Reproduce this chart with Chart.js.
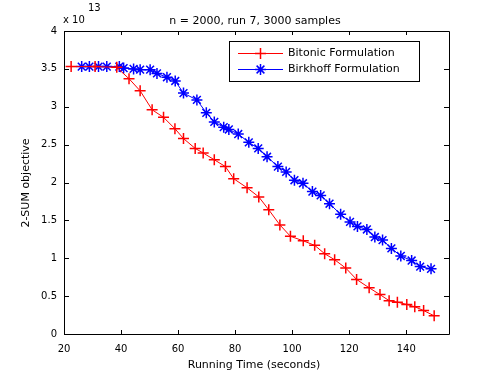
<!DOCTYPE html>
<html>
<head>
<meta charset="utf-8">
<script src="https://cdn.jsdelivr.net/npm/chart.js@4"></script>
<style>
  body { margin: 0; background: #fff; }
  canvas { display: block; }
</style>
</head>
<body>
<canvas id="plot" width="495" height="375"></canvas>
<script>
// values in units of 1e13
const bitonicTime = [22.5, 30.9, 38.5, 42.8, 46.7, 50.9, 54.9, 58.9, 61.9, 66.0, 68.8, 72.7, 76.6, 79.5, 84.2, 88.3, 91.8, 95.7, 99.4, 103.9, 107.9, 111.4, 114.9, 118.8, 122.6, 127.0, 130.8, 134.0, 136.9, 140.2, 143.0, 146.1, 149.8];
const bitonicObj = [3.53, 3.53, 3.52, 3.37, 3.21, 2.96, 2.86, 2.71, 2.58, 2.45, 2.39, 2.30, 2.21, 2.05, 1.93, 1.81, 1.64, 1.44, 1.29, 1.23, 1.17, 1.06, 0.98, 0.87, 0.72, 0.61, 0.52, 0.44, 0.42, 0.39, 0.36, 0.31, 0.24];

const birkhoffTime = [26.2, 28.9, 32.1, 35.0, 39.4, 40.9, 44.4, 46.7, 50.2, 52.6, 56.1, 59.0, 61.9, 66.6, 69.9, 72.7, 76.0, 77.8, 81.1, 84.8, 88.1, 91.2, 95.0, 97.9, 100.8, 103.8, 107.1, 110.0, 113.1, 117.0, 120.3, 122.9, 126.2, 129.0, 131.7, 134.8, 138.1, 141.9, 144.9, 148.7];
const birkhoffObj = [3.53, 3.53, 3.53, 3.53, 3.53, 3.51, 3.50, 3.49, 3.49, 3.44, 3.39, 3.34, 3.18, 3.09, 2.92, 2.80, 2.73, 2.70, 2.64, 2.53, 2.45, 2.34, 2.21, 2.14, 2.03, 1.99, 1.88, 1.83, 1.72, 1.58, 1.48, 1.42, 1.38, 1.28, 1.24, 1.13, 1.03, 0.97, 0.89, 0.86];

const seriesNames = ['Bitonic Formulation', 'Birkhoff Formulation'];
const xTicks = [20, 40, 60, 80, 100, 120, 140];
const yTicks = [0, 0.5, 1, 1.5, 2, 2.5, 3, 3.5, 4];

const FONT = 'DejaVu Sans';

function pts(xs, ys) {
    return xs.map((x, i) => ({ x: x, y: ys[i] }));
}

// box, inward ticks, titles and legend (matlab look)
const matlabFrame = {
    id: 'matlabFrame',
    afterDraw(chart) {
        const ctx = chart.ctx;
        const a = chart.chartArea;
        const xs = chart.scales.x, ys = chart.scales.y;
        ctx.save();
        ctx.strokeStyle = '#000';
        ctx.lineWidth = 1;
        ctx.beginPath();
        ctx.rect(Math.round(a.left) + 0.5, Math.round(a.top) + 0.5,
                 Math.round(a.right - a.left), Math.round(a.bottom - a.top));
        xTicks.forEach(v => {
            const px = Math.round(xs.getPixelForValue(v)) + 0.5;
            ctx.moveTo(px, a.bottom); ctx.lineTo(px, a.bottom - 4);
            ctx.moveTo(px, a.top); ctx.lineTo(px, a.top + 4);
        });
        yTicks.forEach(v => {
            const py = Math.round(ys.getPixelForValue(v)) + 0.5;
            ctx.moveTo(a.left, py); ctx.lineTo(a.left + 5, py);
            ctx.moveTo(a.right, py); ctx.lineTo(a.right - 5, py);
        });
        ctx.stroke();

        ctx.fillStyle = '#000';
        ctx.textBaseline = 'middle';
        ctx.font = '11px ' + FONT;
        ctx.textAlign = 'center';
        ctx.fillText('n = 2000, run 7, 3000 samples', 255, 21);
        ctx.fillText('Running Time (seconds)', 254, 365);
        ctx.save();
        ctx.translate(26, 183);
        ctx.rotate(-Math.PI / 2);
        ctx.fillText('2-SUM objective', 0, 0);
        ctx.restore();
        ctx.textAlign = 'left';
        ctx.font = '10px ' + FONT;
        ctx.fillText('x 10', 63, 20);
        ctx.fillText('13', 88, 8);

        // legend
        ctx.fillStyle = '#fff';
        ctx.fillRect(229.5, 41.5, 190, 40);
        ctx.strokeRect(229.5, 41.5, 190, 40);
        const rows = [53.5, 69.5];
        chart.data.datasets.forEach((ds, i) => {
            const y = rows[i];
            const cx = 260.5;
            ctx.strokeStyle = ds.borderColor;
            ctx.lineWidth = 1;
            ctx.beginPath();
            ctx.moveTo(238, y); ctx.lineTo(283, y);
            ctx.stroke();
            ctx.lineWidth = 1.5;
            ctx.beginPath();
            const r = 5.5;
            ctx.moveTo(cx - r, y); ctx.lineTo(cx + r, y);
            ctx.moveTo(cx, y - r); ctx.lineTo(cx, y + r);
            if (ds.pointStyle === 'star') {
                const d = r * Math.SQRT1_2;
                ctx.moveTo(cx - d, y - d); ctx.lineTo(cx + d, y + d);
                ctx.moveTo(cx - d, y + d); ctx.lineTo(cx + d, y - d);
            }
            ctx.stroke();
            ctx.fillStyle = '#000';
            ctx.font = '11px ' + FONT;
            ctx.fillText(ds.label, 288, y);
        });
        ctx.restore();
    }
};

new Chart(document.getElementById('plot'), {
    type: 'line',
    data: {
        datasets: [{
            label: seriesNames[0],
            data: pts(bitonicTime, bitonicObj),
            borderColor: '#ff0000',
            backgroundColor: '#ff0000',
            borderWidth: 1,
            pointStyle: 'cross',
            pointRadius: 5.5,
            pointBorderWidth: 1.5,
            pointBorderColor: '#ff0000'
        }, {
            label: seriesNames[1],
            data: pts(birkhoffTime, birkhoffObj),
            borderColor: '#0000ff',
            backgroundColor: '#0000ff',
            borderWidth: 1,
            pointStyle: 'star',
            pointRadius: 5.5,
            pointBorderWidth: 1.5,
            pointBorderColor: '#0000ff'
        }]
    },
    options: {
        responsive: false,
        animation: false,
        devicePixelRatio: 1,
        layout: { padding: { top: 31, right: 46, left: 0, bottom: 0 } },
        plugins: {
            legend: { display: false },
            title: { display: false },
            tooltip: { enabled: false }
        },
        scales: {
            x: {
                type: 'linear',
                min: 20,
                max: 155,
                grid: { display: false, drawTicks: false },
                border: { display: false },
                afterBuildTicks: s => { s.ticks = xTicks.map(v => ({ value: v })); },
                afterFit: s => { s.height = 41; },
                ticks: {
                    padding: 9,
                    maxRotation: 0,
                    color: '#000',
                    font: { family: FONT, size: 10 },
                    callback: v => String(v)
                }
            },
            y: {
                type: 'linear',
                min: 0,
                max: 4,
                grid: { display: false, drawTicks: false },
                border: { display: false },
                afterBuildTicks: s => { s.ticks = yTicks.map(v => ({ value: v })); },
                afterFit: s => { s.width = 64; },
                ticks: {
                    padding: 7,
                    color: '#000',
                    font: { family: FONT, size: 10 },
                    callback: v => String(v)
                }
            }
        }
    },
    plugins: [matlabFrame]
});
</script>
</body>
</html>
